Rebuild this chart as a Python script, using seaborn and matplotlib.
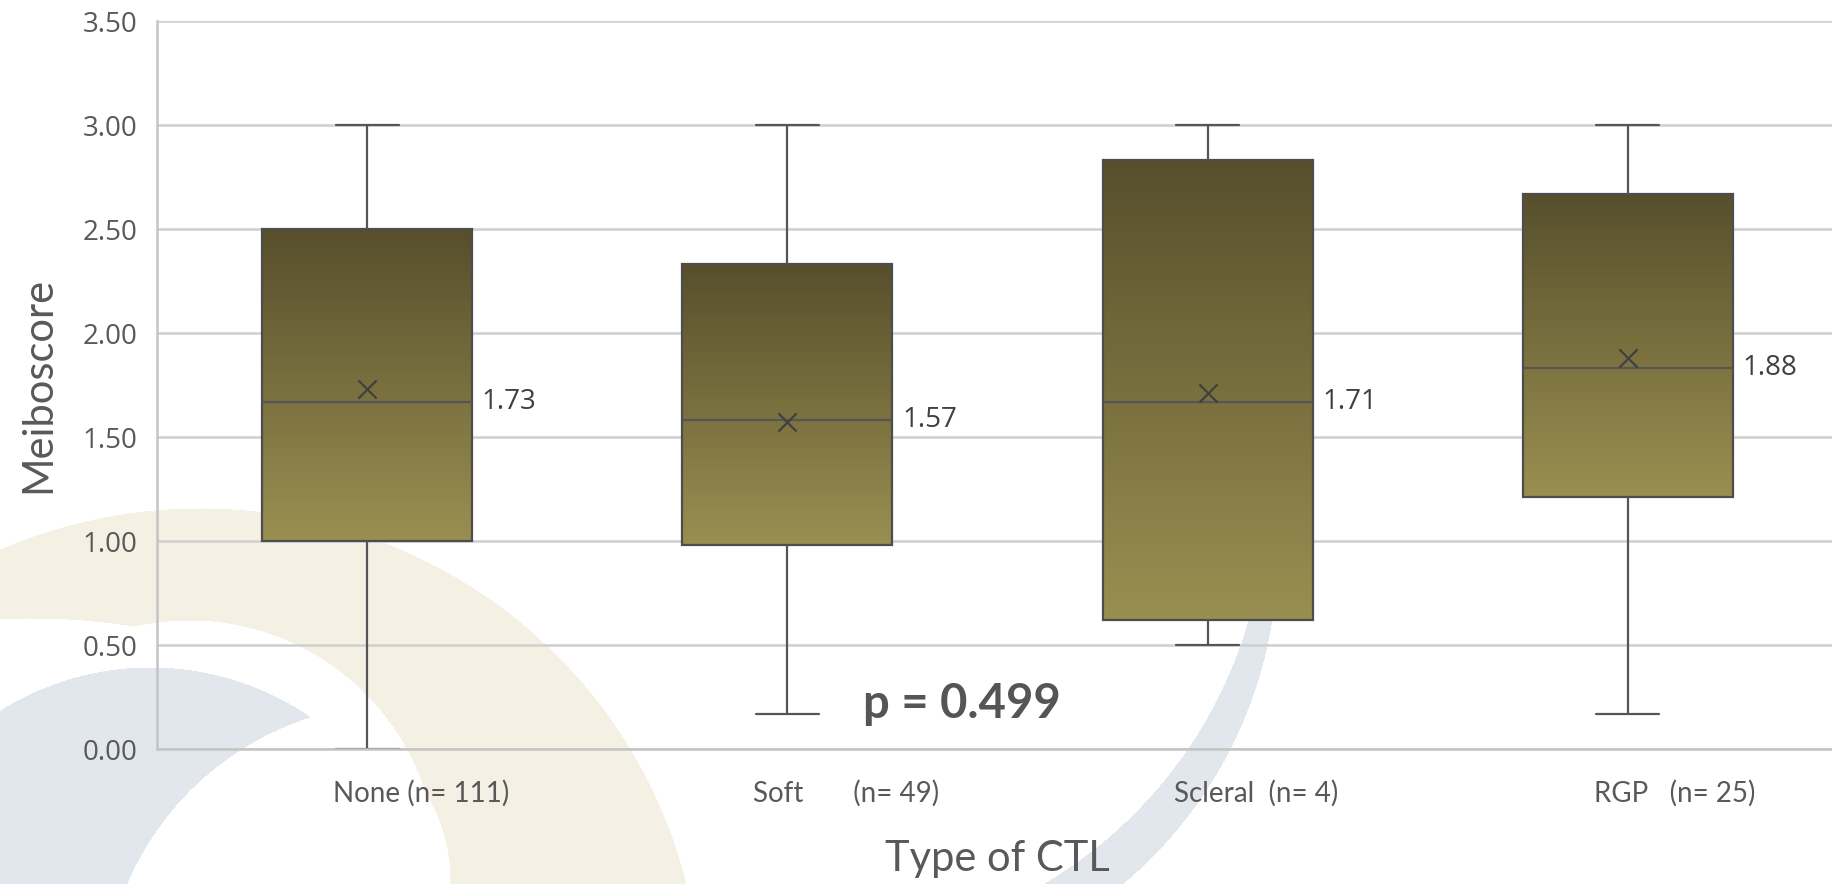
import numpy as np
import pandas as pd
import matplotlib
matplotlib.use("Agg")
import matplotlib.pyplot as plt
import matplotlib.transforms as mtransforms
from matplotlib.ticker import FormatStrFormatter
import seaborn as sns

# Meiboscore by type of contact lens
ctl_types = ["None", "Soft", "Scleral", "RGP"]
tick_labels = ["None (n= 111)", "Soft       (n= 49)", "Scleral  (n= 4)", "RGP   (n= 25)"]
whisker_lo = [0.00, 0.17, 0.50, 0.17]
q1 = [1.00, 0.98, 0.62, 1.21]
median = [1.67, 1.58, 1.67, 1.83]
q3 = [2.50, 2.33, 2.83, 2.67]
whisker_hi = [3.00, 3.00, 3.00, 3.00]
means = [1.73, 1.57, 1.71, 1.88]
p_text = "p = 0.499"

rows = []
for i, t in enumerate(ctl_types):
    for v in (whisker_lo[i], q1[i], median[i], q3[i], whisker_hi[i]):
        rows.append({"Type of CTL": t, "Meiboscore": v})
df = pd.DataFrame(rows)

sns.set_theme(style="white")
plt.rcParams["font.family"] = ["Open Sans", "DejaVu Sans"]
label_font = ["Lato", "DejaVu Sans"]
grey = "#595959"

W, H = 1833, 884
fig = plt.figure(figsize=(W / 100, H / 100), dpi=100)

# faint slide watermark behind the chart
yy, xx = np.mgrid[0:H, 0:W]
bg = np.ones((H, W, 3))
cream = np.array([244, 241, 228]) / 255
blue = np.array([227, 230, 237]) / 255
outer = ((xx - 200) / 500) ** 2 + ((yy - 1000) / 492) ** 2 <= 1
inner = (((xx - 30) / 420) ** 2 + ((yy - 880) / 262) ** 2 <= 1) | \
        ((xx - 189) ** 2 + (yy - 868) ** 2 <= 248 ** 2)
bg[outer & ~inner] = cream
cres = ((xx - 150) ** 2 + (yy - 950) ** 2 <= 283 ** 2) & ((xx - 400) ** 2 + (yy - 1000) ** 2 > 297 ** 2)
bg[cres] = blue
swoosh = ((xx - 846) ** 2 + (yy - 553) ** 2 <= 431 ** 2) & ((xx - 814) ** 2 + (yy - 494) ** 2 > 452 ** 2) & (xx > 1000)
bg[swoosh] = blue
bg_ax = fig.add_axes([0, 0, 1, 1], zorder=-1)
bg_ax.imshow(bg, aspect="auto", interpolation="bilinear")
bg_ax.axis("off")

ax = fig.add_axes([157 / W, 1 - 749 / H, (1838 - 157) / W, (749 - 21) / H])
ax.set_facecolor("none")
sns.boxplot(data=df, x="Type of CTL", y="Meiboscore", order=ctl_types, width=0.5,
            whis=(0, 100), color="#8a7f45", linecolor="#4d4d4d", linewidth=1.6,
            showfliers=False, ax=ax)

# vertical gradient fill of the boxes
top_rgb = np.array([0x57, 0x4f, 0x2c]) / 255
bot_rgb = np.array([0x9a, 0x8f, 0x51]) / 255
grad = np.linspace(0, 1, 256)[:, None, None] * (bot_rgb - top_rgb) + top_rgb
for patch in list(ax.patches):
    ext = patch.get_path().get_extents()
    im = ax.imshow(grad, extent=[ext.x0, ext.x1, ext.y0, ext.y1], origin="upper",
                   aspect="auto", zorder=1.9, interpolation="bilinear")
    im.set_clip_path(patch)
    patch.set_facecolor("none")

# narrower whisker caps
for line in ax.lines:
    x, y = np.asarray(line.get_xdata()), np.asarray(line.get_ydata())
    if len(x) == 2 and y[0] == y[1] and abs(x[1] - x[0]) < 0.45:
        c = (x[0] + x[1]) / 2
        line.set_xdata([c - 0.075, c + 0.075])
    line.set_color("#555555")

sns.scatterplot(x=np.arange(len(ctl_types)), y=means, marker="x", s=170, color="#404040",
                linewidth=1.6, ax=ax, zorder=5, legend=False)
for i in range(len(ctl_types)):
    ax.annotate(f"{means[i]:.2f}", xy=(i + 0.25, median[i]), xytext=(7, 0),
                textcoords="offset points", va="center", ha="left", fontsize=20, color="#404040")

ax.text(1.18, 0.15, p_text, fontsize=34, fontweight="bold", color="#555555", family=label_font)

ax.set_xlim(-0.5, 3.5)
ax.set_ylim(0, 3.5)
ax.set_yticks(np.arange(0, 3.51, 0.5))
ax.yaxis.set_major_formatter(FormatStrFormatter("%.2f"))
ax.grid(axis="y", color="#cfcfcf", lw=1.8)
ax.set_axisbelow(True)
ax.tick_params(axis="y", length=0, pad=14, labelsize=20, labelcolor=grey)
ax.tick_params(axis="x", length=0, pad=22)
ax.set_xticks(range(len(ctl_types)))
ax.set_xticklabels(tick_labels, fontsize=20, color=grey, family=label_font)
offset = mtransforms.ScaledTranslation(-0.34, 0, fig.dpi_scale_trans)
for lab in ax.get_xticklabels():
    lab.set_ha("left")
    lab.set_transform(lab.get_transform() + offset)

for s in ["top", "right"]:
    ax.spines[s].set_visible(False)
for s in ["left", "bottom"]:
    ax.spines[s].set_color("#c4c4c4")
    ax.spines[s].set_linewidth(1.8)

ax.set_xlabel("Type of CTL", fontsize=30, color=grey, family=label_font, labelpad=24)
ax.set_ylabel("Meiboscore", fontsize=30, color=grey, family=label_font, labelpad=18)

fig.savefig("out.png", dpi=100)
